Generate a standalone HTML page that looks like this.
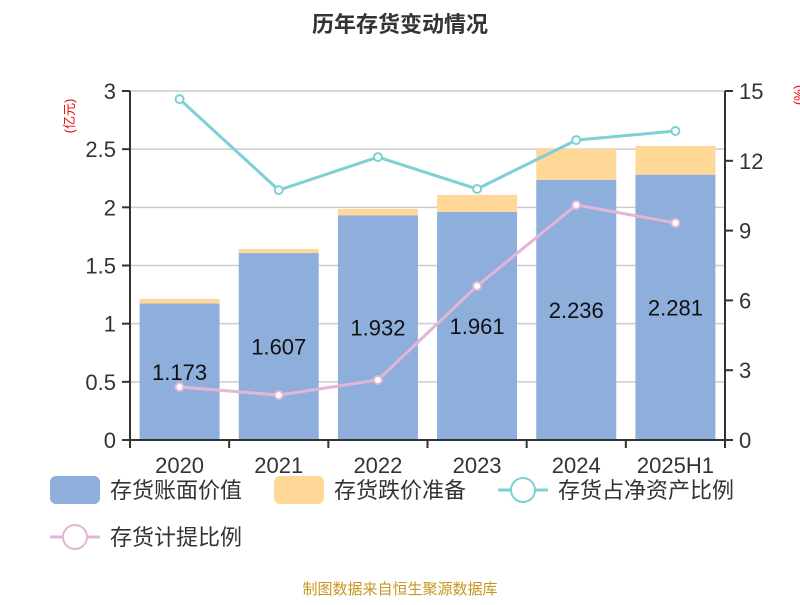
<!DOCTYPE html>
<html><head><meta charset="utf-8"><style>
body{margin:0;background:#fff;width:800px;height:600px;overflow:hidden}
svg text{font-family:"Liberation Sans","Noto Sans CJK SC",sans-serif}
</style></head><body>
<svg id="c" width="800" height="600">
<text x="400" y="32" text-anchor="middle" font-size="22" font-weight="bold" fill="#333">历年存货变动情况</text>
<text transform="translate(74,116) rotate(-90)" text-anchor="middle" font-size="13" fill="#e00">(亿元)</text>
<text transform="translate(803,95) rotate(-90)" text-anchor="middle" font-size="13" fill="#e00">(%)</text>
<g id="grid"></g><g id="bars"></g><g id="lines"></g><g id="axes"></g>
<g>
<rect x="50" y="476" width="50" height="28" rx="6" fill="#8eaedb"/>
<text x="110" y="498" font-size="22" fill="#333">存货账面价值</text>
<rect x="274" y="476" width="50" height="28" rx="6" fill="#ffd898"/>
<text x="334" y="498" font-size="22" fill="#333">存货跌价准备</text>
<line x1="498" y1="490" x2="548" y2="490" stroke="#7dd0d4" stroke-width="3"/>
<circle cx="523" cy="490" r="12" fill="#fff" stroke="#7dd0d4" stroke-width="2"/>
<text x="558" y="498" font-size="22" fill="#333">存货占净资产比例</text>
<line x1="50" y1="537" x2="100" y2="537" stroke="#e3b5d6" stroke-width="3"/>
<circle cx="75" cy="537" r="12" fill="#fff" stroke="#e3b5d6" stroke-width="2"/>
<text x="110" y="545" font-size="22" fill="#333">存货计提比例</text>
</g>
<text x="400" y="594" text-anchor="middle" font-size="15" fill="#c8961e">制图数据来自恒生聚源数据库</text>
</svg>
<script>
const categories=["2020","2021","2022","2023","2024","2025H1"];
const bookValue=[1.173,1.607,1.932,1.961,2.236,2.281];
const reserve=[0.04,0.035,0.054,0.146,0.266,0.247];
const ratioNetAssets=[14.65,10.74,12.16,10.79,12.89,13.28];
const provisionRatio=[2.28,1.93,2.58,6.62,10.10,9.33];
const leftTicks=[0,0.5,1,1.5,2,2.5,3];
const rightTicks=[0,3,6,9,12,15];
const NS="http://www.w3.org/2000/svg";
const L=130,R=725,T=91,B=440;
const yL=v=>B-(v/3)*(B-T), yR=v=>B-(v/15)*(B-T);
const band=(R-L)/categories.length, xC=i=>L+band*(i+0.5), bw=80;
function mk(p,tag,a){const e=document.createElementNS(NS,tag);for(const k in a)e.setAttribute(k,a[k]);p.appendChild(e);return e;}
const grid=document.getElementById('grid'),bars=document.getElementById('bars'),lines=document.getElementById('lines'),axes=document.getElementById('axes');
leftTicks.forEach(t=>{const y=yL(t);
 if(t>0){const g=mk(grid,'line',{x1:L,x2:R,y1:y,y2:y,stroke:'#ccc','stroke-width':1.5});}
 mk(axes,'line',{x1:L-8,x2:L,y1:y,y2:y,stroke:'#333','stroke-width':2});
 const tx=mk(axes,'text',{x:L-14,y:y+8,'text-anchor':'end','font-size':22,fill:'#333'});tx.textContent=t;
 
 });
rightTicks.forEach(t=>{const y=yR(t);
 mk(axes,'line',{x1:R,x2:R+8,y1:y,y2:y,stroke:'#333','stroke-width':2});
 const tx=mk(axes,'text',{x:R+14,y:y+8,'font-size':22,fill:'#333'});tx.textContent=t;
 
 });
mk(axes,'line',{x1:L,x2:L,y1:T,y2:B,stroke:'#333','stroke-width':2});
mk(axes,'line',{x1:R,x2:R,y1:T,y2:B,stroke:'#333','stroke-width':2});
mk(axes,'line',{x1:L,x2:R,y1:B,y2:B,stroke:'#333','stroke-width':2});
categories.forEach((c,i)=>{
 const x=xC(i);
 mk(axes,'line',{x1:L+band*i,x2:L+band*i,y1:B,y2:B+8,stroke:'#333','stroke-width':2});
 const b=mk(bars,'rect',{x:x-bw/2,y:yL(bookValue[i]),width:bw,height:B-yL(bookValue[i]),fill:'#8eaedb'});
 
 
 const r=mk(bars,'rect',{x:x-bw/2,y:yL(bookValue[i]+reserve[i]),width:bw,height:yL(bookValue[i])-yL(bookValue[i]+reserve[i]),fill:'#ffd898'});
 
 
 const v=mk(bars,'text',{x:x,y:yL(bookValue[i]/2)+8,'text-anchor':'middle','font-size':22,fill:'#111'});v.textContent=bookValue[i].toFixed(3);
 
 
 const cl=mk(axes,'text',{x:x,y:B+33,'text-anchor':'middle','font-size':22,fill:'#333'});cl.textContent=c;
 
 });
mk(axes,'line',{x1:R,x2:R,y1:B,y2:B+8,stroke:'#333','stroke-width':2});
function series(vals,color,name){
 const p=mk(lines,'polyline',{points:vals.map((v,i)=>xC(i)+','+yR(v)).join(' '),fill:'none',stroke:color,'stroke-width':3});
 
 
 vals.forEach((v,i)=>{const c=mk(lines,'circle',{cx:xC(i),cy:yR(v),r:4,fill:'#fff',stroke:color,'stroke-width':2});
  
  });}
series(ratioNetAssets,'#7dd0d4','ratio-net-assets');
series(provisionRatio,'#e3b5d6','provision-ratio');
</script>
</body></html>
